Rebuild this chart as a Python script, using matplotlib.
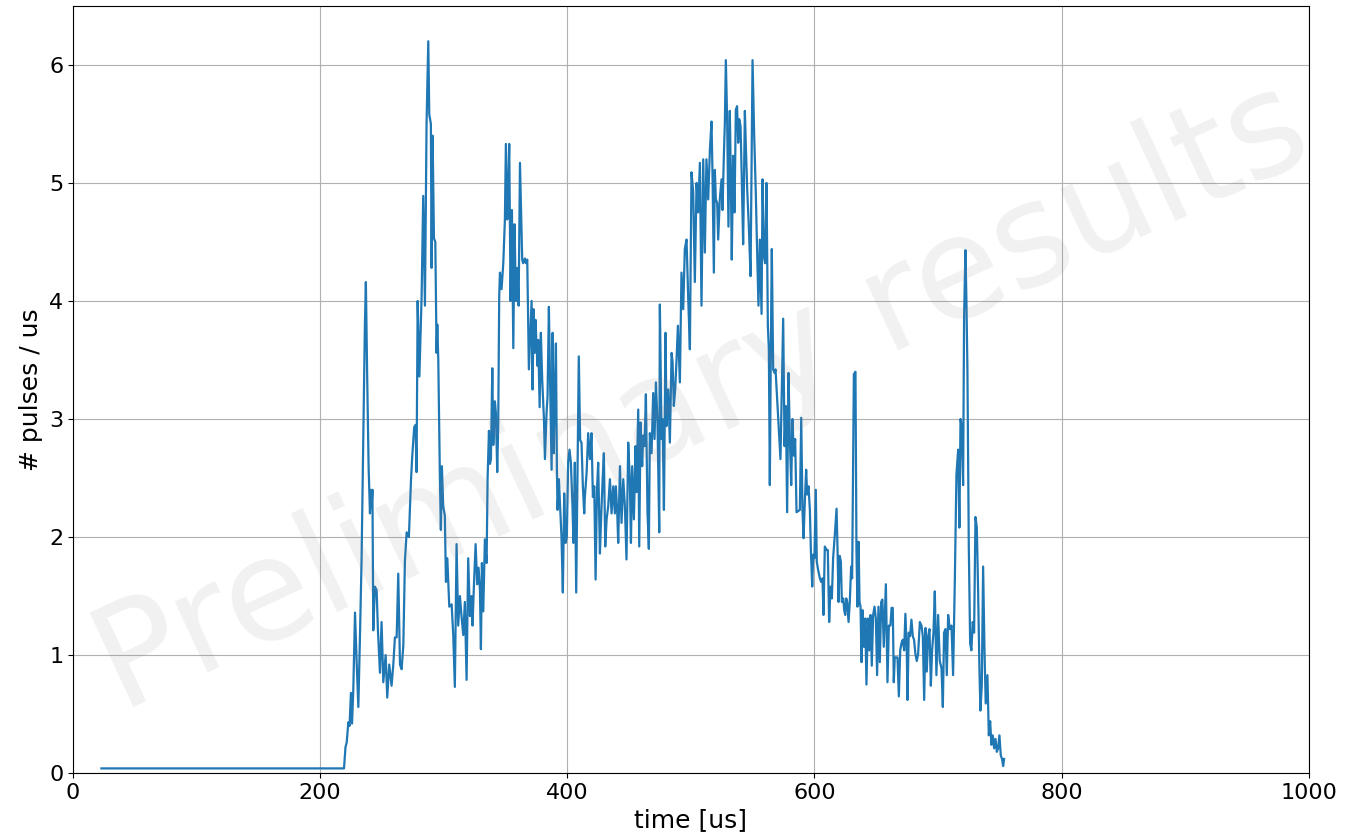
import matplotlib
matplotlib.use("Agg")
import matplotlib.pyplot as plt

# pulse rate vs time
time_us = [
    23.0, 219.3, 220.5, 221.5, 222.8, 223.8, 224.9, 225.8, 226.8, 228.2,
    229.5, 230.9, 232.2, 233.5, 235.0, 236.2, 237.0, 238.0, 239.2, 240.3,
    241.0, 241.6, 242.3, 243.0, 244.3, 245.7, 246.8, 248.4, 249.7, 251.1,
    253.0, 254.3, 255.9, 257.8, 259.2, 260.5, 261.9, 263.2, 264.6, 265.9,
    267.3, 268.6, 270.0, 271.8, 273.5, 274.5, 276.1, 277.2, 278.0, 278.9,
    280.3, 282.1, 283.4, 284.8, 286.1, 287.5, 288.3, 289.6, 290.2, 291.0,
    292.1, 293.2, 294.2, 294.8, 295.6, 296.9, 297.7, 298.5, 299.6, 300.9,
    301.8, 302.9, 304.5, 306.4, 307.7, 309.0, 310.4, 311.7, 313.1, 314.4,
    315.8, 317.1, 318.5, 319.8, 321.2, 322.5, 323.3, 324.4, 325.8, 327.1,
    328.2, 329.3, 330.1, 330.9, 332.0, 333.3, 334.7, 335.5, 336.6, 337.4,
    338.2, 339.3, 340.1, 341.4, 342.2, 343.3, 344.1, 344.9, 345.5, 346.8,
    348.2, 349.5, 350.3, 351.4, 352.2, 353.0, 354.1, 355.2, 356.3, 357.3,
    358.4, 359.5, 360.6, 361.7, 363.5, 364.3, 365.7, 366.5, 367.6, 368.9,
    370.0, 371.1, 371.9, 372.7, 373.5, 374.3, 375.1, 375.9, 376.5, 377.6,
    378.6, 379.7, 381.1, 381.9, 383.2, 384.0, 385.1, 385.9, 387.3, 388.1,
    389.1, 389.9, 390.8, 391.6, 392.1, 393.2, 394.3, 395.3, 396.4, 397.5,
    398.6, 399.6, 400.7, 401.8, 402.9, 404.2, 405.0, 406.1, 407.2, 408.3,
    409.3, 410.4, 411.5, 412.6, 413.7, 414.2, 415.6, 416.9, 418.3, 419.6,
    420.7, 421.8, 422.9, 424.0, 425.0, 426.4, 427.5, 428.6, 429.6, 430.7,
    431.8, 433.1, 434.5, 435.8, 437.2, 438.5, 439.3, 440.4, 441.2, 442.6,
    443.9, 445.3, 446.6, 447.9, 449.3, 450.6, 451.5, 452.5, 453.9, 455.2,
    456.0, 457.4, 458.2, 459.3, 460.6, 461.4, 462.5, 463.6, 464.9, 466.0,
    466.8, 468.2, 469.5, 470.6, 471.7, 473.0, 474.4, 474.9, 476.3, 477.1,
    478.2, 479.5, 480.3, 481.7, 483.0, 484.4, 485.2, 486.2, 487.3, 488.4,
    489.5, 491.1, 492.4, 493.8, 495.1, 496.5, 497.8, 499.2, 500.5, 501.9,
    503.2, 504.6, 505.9, 507.3, 508.6, 510.0, 511.3, 512.6, 514.0, 515.4,
    516.7, 517.5, 518.6, 519.4, 520.2, 521.3, 522.1, 523.4, 524.8, 525.6,
    526.7, 527.5, 528.3, 529.4, 530.4, 531.5, 532.3, 533.1, 534.2, 535.3,
    536.4, 537.4, 538.3, 539.1, 540.2, 541.2, 542.3, 543.7, 544.5, 545.6,
    546.9, 548.3, 549.9, 551.2, 552.6, 553.7, 554.7, 555.8, 557.2, 558.0,
    559.1, 560.1, 561.2, 562.3, 563.1, 563.9, 564.7, 565.5, 566.6, 567.7,
    568.5, 569.8, 570.9, 572.5, 573.9, 574.7, 575.8, 576.9, 577.9, 579.0,
    580.1, 581.2, 582.2, 583.3, 584.4, 585.5, 588.2, 589.3, 590.3, 591.2,
    592.2, 593.3, 594.1, 595.2, 596.3, 597.1, 598.2, 599.0, 600.0, 601.1,
    601.9, 603.0, 604.4, 605.4, 606.5, 607.3, 608.4, 609.8, 610.8, 611.9,
    613.0, 614.1, 615.1, 616.5, 617.9, 618.7, 619.5, 620.5, 621.4, 622.2,
    623.3, 624.1, 624.9, 625.7, 626.5, 627.6, 628.6, 629.7, 630.5, 631.9,
    633.2, 634.0, 634.8, 635.7, 636.5, 637.3, 638.1, 638.9, 640.0, 641.1,
    642.1, 643.2, 644.3, 645.4, 646.4, 647.5, 648.6, 649.7, 650.7, 651.8,
    652.9, 654.0, 655.0, 656.1, 657.8, 659.1, 660.2, 661.5, 662.4, 663.4,
    664.2, 665.0, 666.4, 667.2, 668.3, 669.4, 670.4, 671.5, 672.6, 673.6,
    674.7, 675.3, 676.3, 677.4, 678.5, 679.6, 680.6, 681.7, 682.8, 683.9,
    685.3, 686.6, 687.7, 688.8, 689.9, 690.9, 692.0, 693.1, 694.2, 695.2,
    696.3, 697.4, 698.7, 700.1, 701.4, 702.8, 703.9, 704.9, 706.0, 707.1,
    708.2, 709.5, 710.9, 712.2, 713.6, 714.9, 716.3, 717.3, 718.2, 719.2,
    720.3, 721.1, 722.2, 723.0, 723.8, 724.9, 726.0, 727.0, 728.1, 729.2,
    730.3, 731.4, 732.4, 733.5, 734.3, 735.4, 736.5, 737.6, 738.6, 740.0,
    741.1, 742.2, 743.2, 744.3, 745.4, 746.5, 747.6, 748.6, 749.7, 750.8,
    751.8, 752.7, 753.5,
]

pulses_per_us = [
    0.04, 0.04, 0.22, 0.26, 0.43, 0.40, 0.68, 0.42, 0.70, 1.36,
    0.95, 0.56, 1.15, 1.80, 2.90, 3.80, 4.16, 3.40, 2.60, 2.20,
    2.40, 2.25, 2.40, 1.21, 1.58, 1.55, 1.20, 0.85, 1.28, 0.77,
    1.00, 0.64, 0.92, 0.74, 0.92, 1.15, 1.15, 1.69, 0.92, 0.88,
    1.08, 1.80, 2.04, 2.00, 2.48, 2.68, 2.93, 2.95, 2.55, 4.00,
    3.36, 4.04, 4.89, 3.96, 5.50, 6.20, 5.58, 5.50, 4.28, 5.40,
    4.53, 4.50, 3.56, 3.80, 3.50, 2.50, 2.06, 2.60, 2.26, 2.18,
    1.62, 1.82, 1.41, 1.43, 1.17, 0.73, 1.94, 1.25, 1.50, 1.33,
    1.17, 1.45, 0.79, 1.82, 1.33, 1.50, 1.25, 1.58, 1.94, 1.60,
    1.74, 1.55, 1.05, 1.78, 1.37, 1.98, 1.78, 2.50, 2.90, 2.62,
    2.66, 3.43, 2.78, 3.15, 3.05, 2.55, 2.95, 4.04, 4.24, 4.10,
    4.32, 4.69, 5.33, 4.69, 4.91, 5.33, 4.00, 4.77, 3.60, 4.65,
    4.00, 4.28, 3.96, 5.17, 4.35, 4.32, 4.36, 4.32, 4.35, 3.42,
    3.70, 4.00, 3.25, 3.93, 3.56, 3.84, 3.62, 3.45, 3.67, 3.10,
    3.73, 3.33, 3.00, 2.66, 3.05, 3.19, 3.95, 3.42, 2.57, 3.73,
    2.71, 3.22, 3.64, 2.57, 2.23, 2.49, 2.23, 2.00, 1.53, 2.37,
    1.95, 2.00, 2.63, 2.74, 2.63, 2.26, 1.95, 2.63, 1.53, 2.57,
    3.53, 2.82, 2.80, 2.43, 2.20, 2.34, 2.54, 2.88, 2.66, 2.88,
    2.34, 2.43, 1.64, 2.40, 2.63, 1.86, 2.20, 2.49, 2.71, 1.92,
    2.15, 2.26, 2.49, 2.20, 2.43, 2.20, 2.43, 2.21, 1.95, 2.60,
    2.12, 2.49, 2.26, 1.81, 2.80, 2.49, 1.95, 2.60, 2.15, 2.77,
    2.38, 3.08, 1.92, 2.97, 2.60, 2.86, 2.77, 3.21, 2.21, 1.90,
    2.88, 2.71, 3.22, 2.83, 3.31, 2.97, 2.04, 3.97, 2.83, 3.00,
    2.23, 3.73, 2.94, 3.25, 2.80, 3.56, 3.48, 3.11, 3.25, 3.50,
    3.79, 3.31, 4.24, 3.93, 4.44, 4.52, 4.04, 3.59, 5.09, 4.92,
    4.16, 5.00, 4.75, 5.17, 3.96, 5.20, 4.41, 5.20, 4.86, 5.28,
    5.52, 5.08, 4.24, 5.11, 4.86, 4.83, 4.52, 4.86, 5.03, 4.77,
    5.23, 5.51, 6.04, 5.51, 4.63, 5.61, 5.08, 4.35, 5.23, 4.75,
    5.62, 5.65, 5.34, 5.54, 5.48, 5.03, 4.48, 5.61, 5.31, 4.94,
    4.63, 4.21, 6.04, 5.42, 4.89, 4.38, 3.96, 4.52, 3.89, 5.03,
    4.38, 4.32, 5.00, 3.79, 3.59, 2.44, 3.59, 4.44, 3.42, 3.39,
    3.42, 3.17, 2.97, 2.66, 3.39, 3.85, 2.77, 3.11, 2.21, 3.39,
    2.83, 2.44, 3.00, 2.69, 2.83, 2.21, 2.23, 3.01, 2.23, 1.99,
    2.30, 2.57, 2.36, 2.43, 2.23, 1.89, 1.58, 1.85, 1.82, 2.40,
    1.79, 1.72, 1.65, 1.62, 1.65, 1.34, 1.92, 1.89, 1.89, 1.28,
    1.58, 1.48, 1.82, 2.02, 2.24, 1.89, 1.45, 1.84, 1.79, 1.45,
    1.48, 1.38, 1.34, 1.48, 1.45, 1.28, 1.45, 1.75, 1.65, 3.38,
    3.40, 1.89, 1.41, 1.96, 1.45, 1.41, 0.94, 1.38, 1.07, 1.31,
    0.75, 1.31, 1.04, 1.34, 0.91, 1.34, 1.41, 1.31, 0.83, 1.41,
    0.94, 1.45, 1.47, 1.07, 1.60, 0.77, 1.25, 1.25, 1.40, 1.40,
    0.77, 0.98, 0.98, 0.98, 0.65, 1.04, 1.10, 1.13, 1.04, 1.35,
    1.04, 0.62, 1.19, 1.16, 1.30, 1.16, 1.13, 1.01, 0.95, 1.01,
    1.28, 1.25, 1.16, 0.62, 1.23, 0.86, 1.16, 1.22, 0.74, 1.04,
    1.19, 1.54, 0.83, 1.34, 0.95, 0.89, 0.56, 1.19, 1.22, 0.83,
    1.34, 1.22, 1.25, 0.83, 1.63, 2.53, 2.74, 2.08, 3.00, 2.94,
    2.44, 3.87, 4.43, 3.99, 3.42, 1.93, 1.10, 1.04, 1.28, 1.19,
    2.17, 2.08, 1.57, 0.89, 0.53, 0.74, 1.75, 1.04, 0.59, 0.83,
    0.32, 0.44, 0.24, 0.32, 0.21, 0.29, 0.18, 0.21, 0.32, 0.15,
    0.12, 0.06, 0.12,
]

x_ticks = [0, 200, 400, 600, 800, 1000]
y_ticks = [0, 1, 2, 3, 4, 5, 6]

fig, ax = plt.subplots(figsize=(13.52, 8.34), dpi=100)
fig.subplots_adjust(left=0.054, right=0.968, top=0.993, bottom=0.073)

ax.plot(time_us, pulses_per_us, color="#1f77b4", linewidth=1.6)

ax.set_xlim(0, 1000)
ax.set_ylim(0, 6.5)
ax.set_xticks(x_ticks)
ax.set_yticks(y_ticks)
ax.tick_params(labelsize=16)
ax.set_xlabel("time [us]", fontsize=18)
ax.set_ylabel("# pulses / us", fontsize=18)
ax.grid(True)

# watermark across the plot
ax.text(0.509, 0.488, "Preliminary results", transform=ax.transAxes,
        fontsize=102, color="gray", alpha=0.11, rotation=25,
        ha="center", va="center")

fig.savefig("out.png", dpi=100)
